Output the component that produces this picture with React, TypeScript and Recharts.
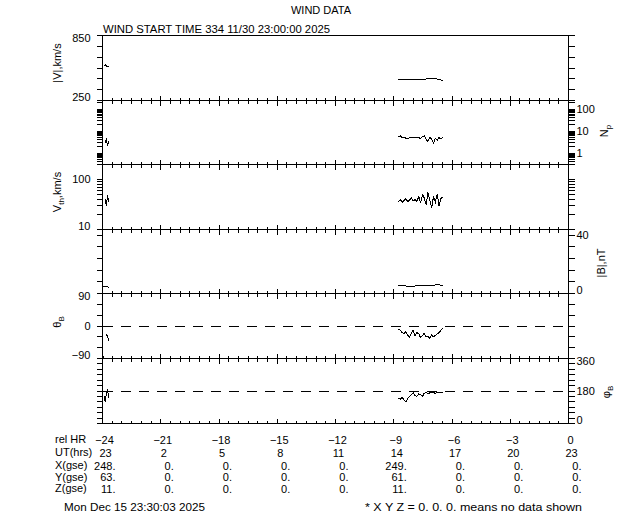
import React from 'react';
import { LineChart, Line, XAxis, YAxis, ReferenceLine } from 'recharts';

const FONT = '"Liberation Sans", Arial, sans-serif';

// Hours relative to end time (rel HR); the -16 row is an empty gap marker
const HOURS = [
  -23.97, -23.92, -23.86, -23.8, -23.74, -23.68, -16,
  -8.76, -8.66, -8.57, -8.47, -8.38, -8.28, -8.19, -8.09, -8.0, -7.9,
  -7.81, -7.71, -7.62, -7.52, -7.43, -7.33, -7.24, -7.14, -7.05, -6.95,
  -6.86, -6.76, -6.67, -6.57, -6.48,
];
const V_MAG = [
  null, 572, 580, 568, 562, 560, null,
  447, 446, 448, 446, 447, 445, 446, 447, 445, 446,
  447, 446, 445, 447, 446, 448, 452, 455, 450, 456,
  452, 447, 444, 440, 436,
];
const N_P = [
  null, null, 3.0, 4.2, 2.2, 3.4, null,
  5.5, 6.0, 5.0, 5.2, 4.8, 4.6, 5.0, 5.3, 4.9, 5.1,
  5.4, 5.0, 4.6, 5.6, 6.2, 4.2, 3.4, 5.4, 4.3, 2.8,
  4.8, 3.8, 5.2, 4.3, 5.5,
];
const V_TH = [
  null, null, 40, 30, 48, 36, null,
  36, 40, 35, 38, 41, 36, 39, 43, 37, 40,
  36, 46, 34, 50, 43, 31, 55, 38, 27, 46,
  35, 52, 30, 42, 45,
];
const B_MAG = [
  5.0, 4.9, 4.8, 4.9, 4.8, 4.2, null,
  5.6, 5.8, 5.5, 5.4, 5.2, 5.0, 4.9, 5.1, 5.0, 5.2,
  5.3, 5.2, 5.4, 5.3, 5.5, 5.6, 5.4, 5.7, 5.8, 5.6,
  5.9, 6.0, 5.9, 5.8, 5.7,
];
const THETA_B = [
  -84, -88, null, -22, -30, -40, null,
  -8, -12, -18, -22, -15, -25, -30, -20, -12, -28,
  -18, -22, -32, -26, -20, -30, -28, -34, -25, -30,
  -26, -22, -18, -12, -6,
];
const PHI_B = [
  null, 150, 120, 170, 185, 140, null,
  140, 135, 145, 130, 120, 138, 150, 160, 170, 155,
  150, 165, 160, 150, 168, 172, 165, 170, 175, 170,
  168, 172, 175, 172, 170,
];

// Axis ticks
const MINOR_HOURS = Array.from({ length: 49 }, (_, i) => -24 + i * 0.5);
const V_TICKS = [250, 350, 450, 550, 650, 750, 850];
const NP_TICKS = [0.3, 0.4, 0.5, 0.6, 0.7, 0.8, 0.9, 1, 2, 3, 4, 5, 6, 7, 8, 9, 10, 20, 30, 40, 50, 60, 70, 80, 90, 100, 200];
const VTH_TICKS = [10, 20, 30, 40, 50, 60, 70, 80, 90, 100, 200];
const B_TICKS = [0, 8, 16, 24, 32, 40];
const THETA_TICKS = [-90, -60, -30, 0, 30, 60, 90];
const PHI_TICKS = [0, 30, 60, 90, 120, 150, 180, 210, 240, 270, 300, 330, 360];

// Bottom table
const REL_HR_LABELS = ['\u221224', '\u221221', '\u221218', '\u221215', '\u221212', '\u22129', '\u22126', '\u22123', '0'];
const UT_HRS = ['23', '2', '5', '8', '11', '14', '17', '20', '23'];
const X_GSE = ['248.', '0.', '0.', '0.', '0.', '249.', '0.', '0.', '0.'];
const Y_GSE = ['63.', '0.', '0.', '0.', '0.', '61.', '0.', '0.', '0.'];
const Z_GSE = ['11.', '0.', '0.', '0.', '0.', '11.', '0.', '0.', '0.'];

const ROWS = HOURS.map((hr, i) => ({
  hr,
  v: V_MAG[i],
  np: N_P[i],
  vth: V_TH[i],
  b: B_MAG[i],
  th: THETA_B[i],
  ph: PHI_B[i],
}));

type PanelCfg = {
  key: string;
  top: number;
  height: number;
  domain: [number, number];
  scale: 'linear' | 'log';
  ticks: number[];
  leftLabels: number[];
  rightLabels: number[];
  ref?: number;
  topTicks: boolean;
  table: boolean;
};

const PANELS: PanelCfg[] = [
  { key: 'v', top: 35, height: 65, domain: [250, 850], scale: 'linear', ticks: V_TICKS, leftLabels: [250, 850], rightLabels: [], topTicks: false, table: false },
  { key: 'np', top: 100, height: 64, domain: [0.3, 250], scale: 'log', ticks: NP_TICKS, leftLabels: [], rightLabels: [1, 10, 100], topTicks: true, table: false },
  { key: 'vth', top: 164, height: 65, domain: [10, 200], scale: 'log', ticks: VTH_TICKS, leftLabels: [10, 100], rightLabels: [], topTicks: true, table: false },
  { key: 'b', top: 229, height: 64, domain: [0, 44], scale: 'linear', ticks: B_TICKS, leftLabels: [], rightLabels: [0, 40], topTicks: true, table: false },
  { key: 'th', top: 293, height: 65, domain: [-90, 90], scale: 'linear', ticks: THETA_TICKS, leftLabels: [-90, 0, 90], rightLabels: [], ref: 0, topTicks: true, table: false },
  { key: 'ph', top: 358, height: 65, domain: [0, 360], scale: 'linear', ticks: PHI_TICKS, leftLabels: [], rightLabels: [0, 180, 360], ref: 180, topTicks: true, table: true },
];

const fmt = (v: number) => (v < 0 ? '\u2212' + Math.abs(v) : String(v));
const isMajor = (v: number) => Math.abs(v % 3) < 1e-6;

const makeYTick = (side: 'left' | 'right', labels: number[], domain: [number, number]) => (props: any) => {
  const { x, y, payload } = props;
  const v = payload.value;
  const x2 = side === 'left' ? x - 6 : x + 6;
  let dy = 0;
  if (v === domain[1]) dy = 3;
  else if (v === domain[0]) dy = -3;
  return (
    <g>
      <line x1={x} x2={x2} y1={y} y2={y} stroke="#000" />
      {labels.includes(v) && (
        <text
          x={side === 'left' ? x - 12 : x + 8}
          y={y + dy}
          dy="0.35em"
          textAnchor={side === 'left' ? 'end' : 'start'}
          fontSize={11}
          fontFamily={FONT}
          fill="#000"
        >
          {fmt(v)}
        </text>
      )}
    </g>
  );
};

const makeBottomTick = (table: boolean) => (props: any) => {
  const { x, y, payload } = props;
  const v = payload.value;
  const major = isMajor(v);
  const len = major ? 5 : 3;
  const k = Math.round((v + 24) / 3);
  const t = { fontSize: 11, fontFamily: FONT, fill: '#000' } as any;
  return (
    <g>
      <line x1={x} x2={x} y1={y} y2={y - len} stroke="#000" />
      {table && major && (
        <g>
          <text x={x + 2} y={y + 20} textAnchor="middle" {...t}>{REL_HR_LABELS[k]}</text>
          <text x={x + 3} y={y + 33} textAnchor="middle" {...t}>{UT_HRS[k]}</text>
          <text x={x + 13} y={y + 46} textAnchor="end" {...t}>{X_GSE[k]}</text>
          <text x={x + 13} y={y + 57.5} textAnchor="end" {...t}>{Y_GSE[k]}</text>
          <text x={x + 13} y={y + 69} textAnchor="end" {...t}>{Z_GSE[k]}</text>
        </g>
      )}
    </g>
  );
};

const topTick = (props: any) => {
  const { x, y, payload } = props;
  const len = isMajor(payload.value) ? 5 : 3;
  return <line x1={x} x2={x} y1={y} y2={y + len} stroke="#000" />;
};

function Panel({ cfg }: { cfg: PanelCfg }) {
  const extraBottom = cfg.table ? 80 : 10;
  const chartH = cfg.height + 10 + extraBottom;
  return (
    <div style={{ position: 'absolute', left: 0, top: cfg.top - 10, width: 640, height: chartH }}>
      <LineChart
        width={640}
        height={chartH}
        data={ROWS}
        margin={{ top: 9.5, right: 70.5, bottom: extraBottom - 1.5, left: 101.5 }}
        style={{ shapeRendering: 'crispEdges' }}
      >
        <XAxis
          xAxisId="b"
          dataKey="hr"
          type="number"
          domain={[-24, 0]}
          ticks={MINOR_HOURS}
          interval={0}
          height={1}
          tickLine={false}
          tickSize={0}
          tickMargin={0}
          axisLine={{ stroke: '#000' }}
          tick={makeBottomTick(cfg.table)}
          allowDataOverflow
        />
        <XAxis
          xAxisId="t"
          orientation="top"
          dataKey="hr"
          type="number"
          domain={[-24, 0]}
          ticks={MINOR_HOURS}
          interval={0}
          height={1}
          tickLine={false}
          tickSize={0}
          tickMargin={0}
          axisLine={{ stroke: '#000' }}
          tick={cfg.topTicks ? topTick : false}
          allowDataOverflow
        />
        <YAxis
          yAxisId="l"
          orientation="left"
          type="number"
          scale={cfg.scale}
          domain={cfg.domain}
          ticks={cfg.ticks}
          interval={0}
          width={1}
          tickLine={false}
          tickSize={0}
          tickMargin={0}
          axisLine={{ stroke: '#000' }}
          tick={makeYTick('left', cfg.leftLabels, cfg.domain)}
          allowDataOverflow
        />
        <YAxis
          yAxisId="r"
          orientation="right"
          type="number"
          scale={cfg.scale}
          domain={cfg.domain}
          ticks={cfg.ticks}
          interval={0}
          width={1}
          tickLine={false}
          tickSize={0}
          tickMargin={0}
          axisLine={{ stroke: '#000' }}
          tick={makeYTick('right', cfg.rightLabels, cfg.domain)}
          allowDataOverflow
        />
        {cfg.ref !== undefined && (
          <ReferenceLine xAxisId="b" yAxisId="l" y={cfg.ref} stroke="#000" strokeDasharray="10 8" />
        )}
        <Line
          xAxisId="b"
          yAxisId="l"
          dataKey={cfg.key}
          stroke="#000"
          strokeWidth={1}
          dot={false}
          isAnimationActive={false}
          connectNulls={false}
        />
      </LineChart>
    </div>
  );
}

const txt = { fontSize: 11, fontFamily: FONT, fill: '#000' } as any;

export default function App() {
  return (
    <div style={{ position: 'absolute', left: 0, top: 0, width: 640, height: 512, background: '#fff', overflow: 'hidden' }}>
      {PANELS.map((p) => (
        <Panel key={p.key} cfg={p} />
      ))}
      <svg width={640} height={512} style={{ position: 'absolute', left: 0, top: 0, pointerEvents: 'none' }}>
        <text x={321} y={14} textAnchor="middle" {...txt}>WIND DATA</text>
        <text x={103} y={33} textLength={227} lengthAdjust="spacingAndGlyphs" {...txt}>WIND START TIME 334 11/30 23:00:00 2025</text>

        <text transform="translate(61,63) rotate(-90)" textAnchor="middle" {...txt}>|V|,km/s</text>
        <text transform="translate(61,192) rotate(-90)" textAnchor="middle" {...txt}>
          V<tspan dy={3} fontSize={8}>th</tspan><tspan dy={-3}>,km/s</tspan>
        </text>
        <text transform="translate(61,322) rotate(-90)" textAnchor="middle" {...txt}>
          θ<tspan dy={3} fontSize={8}>B</tspan>
        </text>
        <text transform="translate(608,131) rotate(-90)" textAnchor="middle" {...txt}>
          N<tspan dy={3} fontSize={8}>p</tspan>
        </text>
        <text transform="translate(605,263) rotate(-90)" textAnchor="middle" {...txt}>|B|,nT</text>
        <text transform="translate(610,392) rotate(-90)" textAnchor="middle" {...txt}>
          φ<tspan dy={3} fontSize={8}>B</tspan>
        </text>

        <text x={55} y={443} {...txt}>rel HR</text>
        <text x={55} y={456} {...txt}>UT(hrs)</text>
        <text x={55} y={469} {...txt}>X(gse)</text>
        <text x={55} y={480.5} {...txt}>Y(gse)</text>
        <text x={55} y={492} {...txt}>Z(gse)</text>

        <text x={64} y={511} textLength={141} lengthAdjust="spacingAndGlyphs" {...txt}>Mon Dec 15 23:30:03 2025</text>
        <text x={365} y={511} textLength={217} lengthAdjust="spacingAndGlyphs" {...txt}>* X Y Z = 0. 0. 0. means no data shown</text>
      </svg>
    </div>
  );
}
